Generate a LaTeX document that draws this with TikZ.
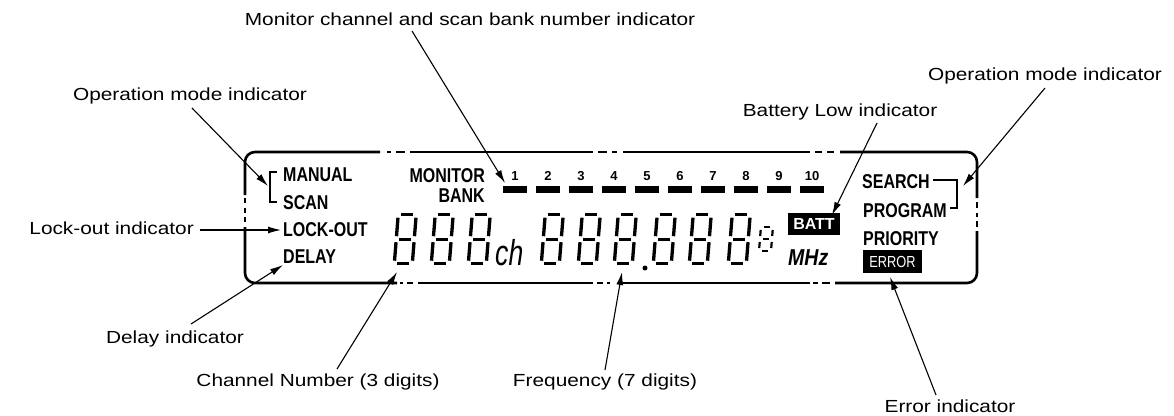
\documentclass[tikz,border=0pt]{standalone}
\usepackage{fontspec}
\setmainfont{Liberation Sans}
\newfontfamily\lblfont[FakeStretch=1.19]{Liberation Sans}
\newfontfamily\lcdfont[FakeStretch=0.8]{Liberation Sans}
\newfontfamily\lcdnarrow[FakeStretch=0.8]{Liberation Sans}
\newfontfamily\chfont[FakeStretch=0.74]{Liberation Sans}
\newfontfamily\mhzfont[FakeStretch=0.85]{Liberation Sans}
\usetikzlibrary{arrows.meta}
\tikzset{
  lbl/.style={font=\lblfont\fontsize{17.5}{20}\selectfont, inner sep=0pt, anchor=base},
  lcd/.style={font=\lcdfont\bfseries\fontsize{20}{22}\selectfont, inner sep=0pt, anchor=base west},
  arr/.style={-{Latex[length=13pt,width=7pt]}, line width=1.1pt},
  frame/.style={line width=2.6pt},
  seg/.style={line width=3.3pt},
  brk/.style={line width=1.5pt},
  barbox/.style={fill=black, inner sep=0pt, minimum width=24pt, minimum height=7pt},
  numtxt/.style={font=\bfseries\fontsize{13}{14}\selectfont, inner sep=0pt, anchor=base},
  invbox/.style={fill=black, text=white, inner sep=0pt},
}
\newcommand{\sevseg}[4]{%
  \begin{scope}[shift={(#1,#2)},xslant=0.08]
    \draw[seg] (3,{-#4}) -- ({#3-3},{-#4});
    \draw[seg] (3,{-#4/2}) -- ({#3-3},{-#4/2});
    \draw[seg] (3,0) -- ({#3-3},0);
    \draw[seg] (0,{-#4+3}) -- (0,{-#4/2-3});
    \draw[seg] (0,{-#4/2+3}) -- (0,-3);
    \draw[seg] (#3,{-#4+3}) -- (#3,{-#4/2-3});
    \draw[seg] (#3,{-#4/2+3}) -- (#3,-3);
  \end{scope}}
\begin{document}
\begin{tikzpicture}[x=1pt,y=-1pt]
\useasboundingbox (0,0) rectangle (1174,415);

% ---- LCD frame with dash-dot breaks ----
\draw[frame, rounded corners=10pt] (245,195) -- (245,152) -- (380,152);
\draw[frame] (387,152) -- (391,152);
\draw[frame] (396,152) -- (405,152);
\draw[frame] (410,152) -- (593,152);
\draw[frame] (598,152) -- (607,152);
\draw[frame] (612,152) -- (617,152);
\draw[frame] (623,152) -- (810,152);
\draw[frame] (815,152) -- (822,152);
\draw[frame] (827,152) -- (834,152);
\draw[frame, rounded corners=10pt] (840,152) -- (977,152) -- (977,198);
\draw[frame] (977,202) -- (977,208);
\draw[frame] (977,213) -- (977,217);
\draw[frame] (977,221) -- (977,227);
\draw[frame, rounded corners=10pt] (977,231) -- (977,283) -- (835,283);
\draw[frame] (830,283) -- (822,283);
\draw[frame] (818,283) -- (813,283);
\draw[frame] (810,283) -- (620,283);
\draw[frame] (610,283) -- (607,283);
\draw[frame] (603,283) -- (597,283);
\draw[frame] (593,283) -- (418,283);
\draw[frame] (413,283) -- (407,283);
\draw[frame] (403,283) -- (400,283);
\draw[frame, rounded corners=10pt] (397,283) -- (245,283) -- (245,227);
\draw[frame] (245,222) -- (245,217);
\draw[frame] (245,213) -- (245,208);
\draw[frame] (245,203) -- (245,198);

% ---- LCD contents ----
\node[lcd] (manual) at (283,181) {MANUAL};
\node[lcd] (scan) at (283,209) {SCAN};
\node[lcd] (lockout) at (283,236) {LOCK-OUT};
\node[lcd] (delay) at (283,263) {DELAY};
\draw[brk] (277,172) -- (270,172) -- (270,202) -- (277,202);

\node[lcd, anchor=base east] (monitor) at (485,182) {MONITOR};
\node[lcd, anchor=base east] (bank) at (485,202) {BANK};

\foreach \k in {1,...,10} {
  \pgfmathsetmacro\cx{515+33*(\k-1)}
  \node[numtxt] (n\k) at (\cx,180) {\k};
  \node[barbox] (b\k) at (\cx,189.5) {};
}

\sevseg{394.3}{263.7}{18}{49}
\sevseg{431.3}{263.7}{18}{49}
\sevseg{468.3}{263.7}{18}{49}
\node[font=\chfont\itshape\fontsize{36}{38}\selectfont, inner sep=0pt, anchor=base west] (ch) at (495,265) {ch};

\sevseg{541.3}{263.7}{18}{49}
\sevseg{578.3}{263.7}{18}{49}
\sevseg{614.3}{263.7}{18}{49}
\fill (645,268) circle (2.5pt);
\sevseg{653.3}{263.7}{18}{49}
\sevseg{689.3}{263.7}{18}{49}
\sevseg{728.3}{263.7}{18}{49}
\begin{scope}[seg/.style={line width=2.2pt}]
\sevseg{759}{251}{12}{24}
\end{scope}
\node[font=\mhzfont\bfseries\itshape\fontsize{23}{25}\selectfont, inner sep=0pt, anchor=base west] (mhz) at (788,265) {MHz};
\node[invbox, minimum width=52pt, minimum height=22pt, font=\bfseries\fontsize{16}{18}\selectfont] (batt) at (814,224) {BATT};

\node[lcd] (search) at (862,188) {SEARCH};
\node[lcd] (program) at (863,217) {PROGRAM};
\node[lcd] (priority) at (863,245) {PRIORITY};
\draw[brk] (933,180) -- (957,180) -- (957,208) -- (950,208);
\node[invbox, minimum width=59pt, minimum height=23pt, font=\lcdnarrow\fontsize{16}{18}\selectfont] (error) at (892.5,261.5) {ERROR};

% ---- labels ----
\node[lbl] (lMon) at (470,25) {Monitor channel and scan bank number indicator};
\node[lbl] (lOpL) at (190,100) {Operation mode indicator};
\node[lbl] (lOpR) at (1045,80) {Operation mode indicator};
\node[lbl] (lBatt) at (840,116) {Battery Low indicator};
\node[lbl, anchor=base east] (lLock) at (194,234) {Lock-out indicator};
\node[lbl] (lDelay) at (175,343) {Delay indicator};
\node[lbl] (lChan) at (318,386) {Channel Number (3 digits)};
\node[lbl] (lFreq) at (605,386) {Frequency (7 digits)};
\node[lbl] (lErr) at (950,412) {Error indicator};

% ---- arrow end points ----
\coordinate (tMon) at (412,31);   \coordinate (hMon) at (505,183);
\coordinate (tOpL) at (192,108);  \coordinate (hOpL) at (268,186);
\coordinate (tLock) at (200,230); \coordinate (hLock) at (281,230);
\coordinate (tDelay) at (191,324);\coordinate (hDelay) at (283,265);
\coordinate (tChan) at (337,369); \coordinate (hChan) at (397,272);
\coordinate (tFreq) at (605,370); \coordinate (hFreq) at (622,272);
\coordinate (tErr) at (936,395);  \coordinate (hErr) at (890,277);
\coordinate (tBatt) at (877,123); \coordinate (hBatt) at (832,215);
\coordinate (tOpR) at (1045,88);  \coordinate (hOpR) at (963,186);

\draw[arr] (tMon) -- (hMon);
\draw[arr] (tOpL) -- (hOpL);
\draw[arr] (tLock) -- (hLock);
\draw[arr] (tDelay) -- (hDelay);
\draw[arr] (tChan) -- (hChan);
\draw[arr] (tFreq) -- (hFreq);
\draw[arr] (tErr) -- (hErr);
\draw[arr] (tBatt) -- (hBatt);
\draw[arr] (tOpR) -- (hOpR);
\end{tikzpicture}
\end{document}
